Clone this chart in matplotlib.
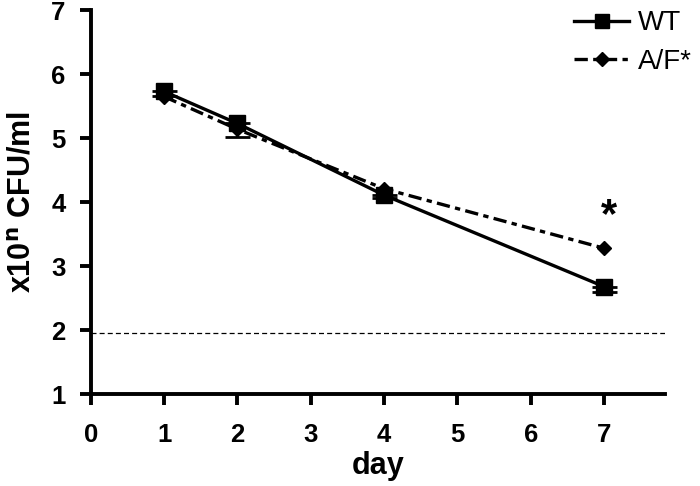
import matplotlib
matplotlib.use("Agg")
import matplotlib.pyplot as plt
from matplotlib.lines import Line2D

plt.rcParams['font.family'] = ['Liberation Sans', 'DejaVu Sans']

days = [1, 2, 4, 7]
wt = [5.73, 5.23, 4.11, 2.68]
wt_err_low = [0.07, 0.21, 0.05, 0.09]
af = [5.65, 5.14, 4.21, 3.28]
threshold = 1.95
xticks = [0, 1, 2, 3, 4, 5, 6, 7]
yticks = [1, 2, 3, 4, 5, 6, 7]

fig = plt.figure(figsize=(7, 4.86), dpi=100)
ax = fig.add_axes([0.1296, 0.189, 0.8204, 0.79])

af_ls = (0, (4, 1.6, 1.6, 1.6))
ax.errorbar(days, wt, yerr=[wt_err_low, [0] * len(wt)], color='black', lw=2.4,
            marker='s', ms=11, capsize=9, elinewidth=2, capthick=2, zorder=3)
ax.plot(days, af, color='black', lw=2.4, marker='D', ms=7.5,
        linestyle=af_ls, zorder=4)
ax.axhline(threshold, color='black', lw=0.9, linestyle=(0, (4, 2.5)), zorder=1)
ax.text(7.07, 3.78, '*', fontsize=30, fontweight='bold', ha='center', va='center')

ax.set_xlim(0, 7.83)
ax.set_ylim(1, 7)
ax.set_xticks(xticks)
ax.set_yticks(yticks)
for s in ['top', 'right']:
    ax.spines[s].set_visible(False)
for s in ['left', 'bottom']:
    ax.spines[s].set_linewidth(2.8)
ax.tick_params(width=2.8, length=8, labelsize=18.5)
ax.tick_params(axis='x', pad=13)
ax.tick_params(axis='y', pad=10)
for lab in ax.get_xticklabels() + ax.get_yticklabels():
    lab.set_fontweight('bold')
ax.set_xlabel('day', fontsize=22, fontweight='bold', labelpad=3)
ax.set_ylabel(r'x10$^\mathbf{n}$ CFU/ml', fontsize=22, fontweight='bold', labelpad=10)

handles = [
    Line2D([], [], color='black', lw=2.4, marker='s', ms=10),
    Line2D([], [], color='black', lw=2.4, marker='D', ms=7, linestyle=af_ls),
]
labels = ['WT', 'A/F*']
ax.legend(handles, labels, loc='upper right', bbox_to_anchor=(1.09, 1.065),
          frameon=False, fontsize=20, handlelength=2.0, handletextpad=0.3,
          labelspacing=0.45)

fig.savefig('out.png', dpi=100)
